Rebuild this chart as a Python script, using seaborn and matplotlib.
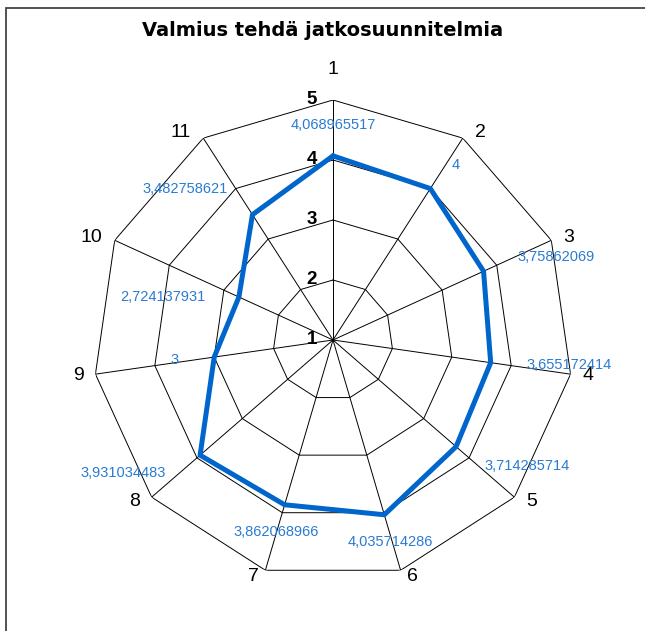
import numpy as np
import pandas as pd
import matplotlib
matplotlib.use("Agg")
import matplotlib.pyplot as plt
from matplotlib.patches import Rectangle
import seaborn as sns

# ---- data ----
title = "Valmius tehdä jatkosuunnitelmia"
categories = ["1", "2", "3", "4", "5", "6", "7", "8", "9", "10", "11"]
values = [4.068965517, 4, 3.75862069, 3.655172414, 3.714285714, 4.035714286,
          3.862068966, 3.931034483, 3, 2.724137931, 3.482758621]
radial_ticks = [1, 2, 3, 4, 5]

# ---- style / layout ----
label_offsets_px = [(0, -31), (25, -24), (73, -14), (78, 2), (71, 19), (6, 27),
                    (-8, 27), (-77, 18), (-40, 3), (-76, 0), (-67, -26)]
LINE_COLOR = "#0066CC"
LABEL_COLOR = "#2A7BD2"

sns.set_theme(style="white")
plt.rcParams["font.family"] = ["Liberation Sans", "DejaVu Sans"]

W, H = 645, 631
fig = plt.figure(figsize=(W / 100, H / 100), dpi=100)
cx, cy, R = 333, 340, 240
ax = fig.add_axes([(cx - R) / W, (H - cy - R) / H, 2 * R / W, 2 * R / H],
                  projection="polar")
ax.set_theta_zero_location("N")
ax.set_theta_direction(-1)
ax.patch.set_alpha(0)

n = len(categories)
theta = np.arange(n) * 2 * np.pi / n
theta_closed = np.append(theta, theta[0])

# grid polygons and spokes
for lvl in radial_ticks[1:]:
    ax.plot(theta_closed, [lvl] * (n + 1), color="black", lw=0.7, zorder=1)
for t in theta:
    ax.plot([t, t], [radial_ticks[0], radial_ticks[-1]], color="black", lw=0.7, zorder=1)

df = pd.DataFrame({"theta": theta_closed,
                   "value": values + [values[0]],
                   "order": np.arange(n + 1)})
sns.lineplot(data=df, x="theta", y="value", sort=False, ax=ax,
             color=LINE_COLOR, lw=3.6, zorder=3, estimator=None)

ax.set_ylim(radial_ticks[0], radial_ticks[-1])
ax.set_xticks([])
ax.set_yticks([])
ax.set_xlabel("")
ax.set_ylabel("")
ax.grid(False)
ax.spines["polar"].set_visible(False)

# radial tick labels
for lvl in radial_ticks:
    ax.annotate(str(lvl), xy=(0, lvl), xytext=(-21, 1), textcoords="offset pixels",
                ha="center", va="center", fontsize=13.5, fontweight="bold",
                color="black", annotation_clip=False)

# category labels
for t, lab in zip(theta, categories):
    s, c = np.sin(t), np.cos(t)
    if abs(s) < 0.05:
        ha, dx, dy = "center", 0, 30
    else:
        ha = "left" if s > 0 else "right"
        dx = np.sign(s) * 12 * min(1.0, abs(s) * 2)
        dy = 7 * c
    ax.annotate(lab, xy=(t, radial_ticks[-1]), xytext=(dx, dy),
                textcoords="offset pixels", ha=ha, va="center",
                fontsize=14, color="black", annotation_clip=False)

# value labels
for t, v, (ox, oy) in zip(theta, values, label_offsets_px):
    txt = f"{v:.10g}".replace(".", ",")
    ax.annotate(txt, xy=(t, v), xytext=(ox, -oy), textcoords="offset pixels",
                ha="center", va="center", fontsize=10.5, color=LABEL_COLOR,
                annotation_clip=False)

fig.text(323 / W, 1 - 31 / H, title, ha="center", va="center",
         fontsize=14, fontweight="bold", color="black",
         family=["DejaVu Sans"])

fig.patches.append(Rectangle((5.5 / W, -0.02), 1.1, 1 - 8 / H + 0.02,
                             transform=fig.transFigure, fill=False,
                             edgecolor="#444444", lw=1.3))

fig.savefig("out.png", dpi=100)
